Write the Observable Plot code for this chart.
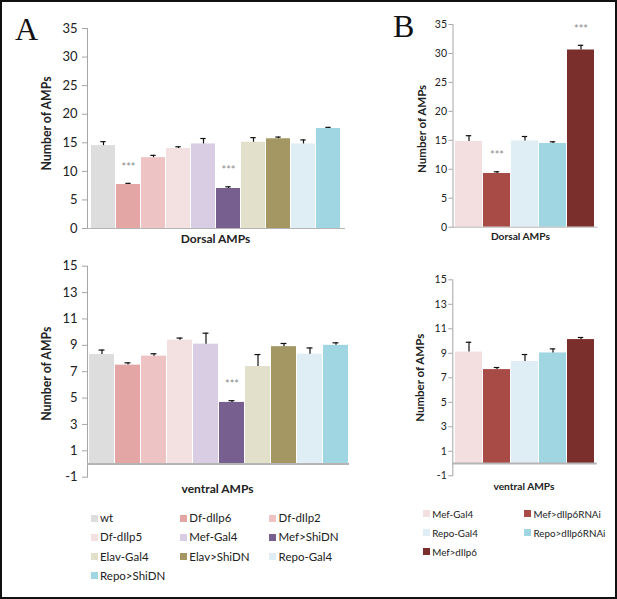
<!DOCTYPE html>
<html><head><meta charset="utf-8">
<script src="https://cdn.jsdelivr.net/npm/d3@7"></script>
<script src="https://cdn.jsdelivr.net/npm/@observablehq/plot@0.6"></script>
<style>
body{margin:0;background:#fff;}
#fig{position:relative;width:617px;height:599px;overflow:hidden;background:#fff;font-family:Lato,"DejaVu Sans",sans-serif;}
#fig svg{position:absolute;left:0;top:0;}
.border{position:absolute;left:0;top:0;width:617px;height:599px;border:2px solid #111;box-sizing:border-box;pointer-events:none;}
.letter{position:absolute;font-family:"Liberation Serif","Times New Roman",serif;font-size:32px;line-height:32px;color:#111;}
.leg{position:absolute;color:#222;line-height:14px;white-space:nowrap;}
.sw{position:absolute;width:7px;height:7px;}
</style></head><body>
<div id="fig"></div>
<script>
// ---- Panel A data ----
const groupsA = ["wt","Df-dIlp6","Df-dIlp2","Df-dIlp5","Mef-Gal4","Mef>ShiDN","Elav-Gal4","Elav>ShiDN","Repo-Gal4","Repo>ShiDN"];
const colorsA = ["#dddddd","#e3a6a5","#edc3c3","#f3e0e0","#d8cde2","#77608f","#e2dfcb","#a59763","#dfeef5","#a0d5e2"];
const dorsalA    = [14.5, 7.7, 12.4, 14.0, 14.8, 7.0, 15.1, 15.7, 14.8, 17.5];
const dorsalAErr = [15.2, 7.9, 12.8, 14.3, 15.75, 7.3, 15.9, 16.0, 15.5, 17.7];
const dorsalASig = ["","***","","","","***","","","",""];
const ventralA    = [8.3, 7.5, 8.18, 9.39, 9.09, 4.67, 7.39, 8.9, 8.33, 9.0];
const ventralAErr = [8.64, 7.67, 8.36, 9.55, 9.92, 4.8, 8.3, 9.14, 8.8, 9.19];
const ventralASig = ["","","","","","***","","","",""];

// ---- Panel B data ----
const groupsB = ["Mef-Gal4","Mef>dIlp6RNAi","Repo-Gal4","Repo>dIlp6RNAi","Mef>dIlp6"];
const colorsB = ["#f3dfdf","#a84a46","#dfeef5","#a0d5e2","#7b2f2c"];
const dorsalB    = [14.8, 9.27, 14.9, 14.45, 30.6];
const dorsalBErr = [15.8, 9.57, 15.66, 14.75, 31.4];
const dorsalBSig = ["","***","","","***"];
const ventralB    = [9.1, 7.67, 8.33, 9.03, 10.12];
const ventralBErr = [9.9, 7.84, 8.9, 9.36, 10.29];
const ventralBSig = ["","","","",""];

// ---- axes ----
const ticksDorsal  = [0,5,10,15,20,25,30,35];
const ticksVentral = [-1,1,3,5,7,9,11,13,15];
const yLabel = "Number of AMPs";
const xLabelDorsal = "Dorsal AMPs";
const xLabelVentral = "ventral AMPs";

const W = 617, H = 599;
const fig = document.getElementById("fig");

function panel(o){
  const data = o.groups.map((g,i)=>({g, v:o.values[i], e:o.errs[i], s:o.sig[i], c:o.colors[i]}));
  const pad = 0.04;
  const bw = (o.x1 - o.x0) / (o.groups.length + pad) * (1 - pad);
  const cap = 6;
  const svg = Plot.plot({
    width: W, height: H,
    marginLeft: o.x0, marginRight: W - o.x1, marginTop: o.yTop, marginBottom: H - o.yBottom,
    style: {background: "transparent", overflow: "visible", fontFamily: "Lato, sans-serif"},
    x: {type: "band", domain: o.groups, padding: pad, axis: null},
    y: {domain: o.domain, axis: null},
    color: {type: "identity"},
    marks: [
      Plot.frame({anchor: "left", stroke: "#a6a6a6", strokeWidth: 1}),
      Plot.axisY({ticks: o.ticks, tickSize: o.tickSize, tickPadding: o.tickPad, tickFormat: d => String(d),
        fontSize: o.tickFont, stroke: "#a6a6a6", fill: "#222", label: null}),
      Plot.barY(data, {x: "g", y: "v", fill: "c"}),
      Plot.ruleY([0], {stroke: "#b5b5b5", strokeWidth: o.baseW}),
      Plot.ruleX(data, {x: "g", y1: "v", y2: "e", stroke: "#111", strokeWidth: 1.2}),
      Plot.tickY(data, {x: "g", y: "e", stroke: "#111", strokeWidth: 1.2, insetLeft: (bw - cap) / 2, insetRight: (bw - cap) / 2}),
      Plot.text(data, {x: "g", y: "e", text: "s", dy: -16, fill: "#8a8a8a", fontSize: 11}),
      Plot.text([yLabel], {frameAnchor: "left", textAnchor: "middle", lineAnchor: "middle", dx: o.ylDx, dy: o.ylDy, rotate: -90,
        fontWeight: "bold", fontSize: o.ylFont, fill: "#222"}),
      Plot.text([o.xLabel], {frameAnchor: "bottom", textAnchor: "middle", lineAnchor: "middle", dx: o.xlDx, dy: o.xlDy,
        fontWeight: "bold", fontSize: o.xlFont, fill: "#222"})
    ]
  });
  fig.appendChild(svg);
}

panel({groups: groupsA, colors: colorsA, values: dorsalA, errs: dorsalAErr, sig: dorsalASig,
  ticks: ticksDorsal, domain: [0,35], x0: 87, x1: 345, yTop: 28, yBottom: 228, baseW: 1,
  tickSize: 5, tickPad: 5, tickFont: 13, ylFont: 12.3, xlFont: 12,
  ylDx: -40, ylDy: -5, xLabel: xLabelDorsal, xlDx: -1, xlDy: 11});
panel({groups: groupsA, colors: colorsA, values: ventralA, errs: ventralAErr, sig: ventralASig,
  ticks: ticksVentral, domain: [-1,15], x0: 87, x1: 349, yTop: 265.7, yBottom: 476.7, baseW: 2,
  tickSize: 5, tickPad: 5, tickFont: 13, ylFont: 12.3, xlFont: 12,
  ylDx: -40, ylDy: 2, xLabel: xLabelVentral, xlDx: -1, xlDy: 12});
panel({groups: groupsB, colors: colorsB, values: dorsalB, errs: dorsalBErr, sig: dorsalBSig,
  ticks: ticksDorsal, domain: [0,35], x0: 452.5, x1: 597.3, yTop: 24, yBottom: 226.7, baseW: 1,
  tickSize: 4, tickPad: 2, tickFont: 10.5, ylFont: 11.5, xlFont: 10.2,
  ylDx: -31, ylDy: 3, xLabel: xLabelDorsal, xlDx: -5, xlDy: 10});
panel({groups: groupsB, colors: colorsB, values: ventralB, errs: ventralBErr, sig: ventralBSig,
  ticks: ticksVentral, domain: [-1,15], x0: 452.3, x1: 596.7, yTop: 279.3, yBottom: 475.3, baseW: 2,
  tickSize: 4, tickPad: 2, tickFont: 10.5, ylFont: 11.5, xlFont: 10.2,
  ylDx: -32, ylDy: 0, xLabel: xLabelVentral, xlDx: -1, xlDy: 11});

// ---- legends ----
function legend(groups, colors, cols, x0, y0, colStep, rowStep, fontSize){
  groups.forEach((g,i)=>{
    const c = i % cols, r = Math.floor(i / cols);
    const cx = x0 + c * colStep, cy = y0 + r * rowStep;
    const sw = document.createElement("div");
    sw.className = "sw"; sw.style.background = colors[i];
    sw.style.left = cx + "px"; sw.style.top = (cy - 3.5) + "px";
    fig.appendChild(sw);
    const t = document.createElement("div");
    t.className = "leg"; t.textContent = g; t.style.fontSize = fontSize + "px";
    t.style.left = (cx + 9.5) + "px"; t.style.top = (cy - 7) + "px";
    fig.appendChild(t);
  });
}
legend(groupsA, colorsA, 3, 90.5, 518, 89.3, 19.3, 11.5);
legend(groupsB, colorsB, 2, 422.7, 513.5, 101.3, 19, 9.8);

// ---- panel letters ----
[["A", 15, 13], ["B", 393, 10]].forEach(([s,x,y])=>{
  const d = document.createElement("div");
  d.className = "letter"; d.textContent = s;
  d.style.left = x + "px"; d.style.top = y + "px";
  fig.appendChild(d);
});
const b = document.createElement("div"); b.className = "border"; fig.appendChild(b);
</script>
</body></html>
